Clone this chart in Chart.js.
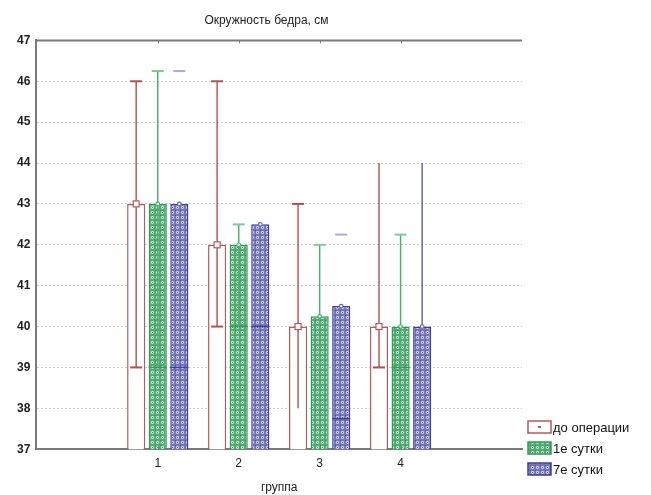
<!DOCTYPE html>
<html>
<head>
<meta charset="utf-8">
<script src="https://cdn.jsdelivr.net/npm/chart.js@4.4.1/dist/chart.umd.min.js"></script>
<style>
  html, body { margin: 0; padding: 0; background: #fff; }
  #wrap { width: 651px; height: 495px; }
</style>
</head>
<body>
<div id="wrap"><canvas id="chart" width="651" height="495"></canvas></div>
<script>
// groups on the x axis (blank slots at both ends)
const categories = ["", "1", "2", "3", "4", ""];
const seriesNames = ["до операции", "1е сутки", "7е сутки"];

// bar heights (median)
const preOp = [null, 43, 42, 40, 40, null];
const day1 = [null, 43, 42, 40.25, 40, null];
const day7 = [null, 43, 42.5, 40.5, 40, null];

// whisker lines
const preLo = [null, 39, 40, 38, 39, null];
const preHi = [null, 46, 46, 43, 44, null];
const preCapLo = [null, 39, 40, null, 39, null];
const preCapHi = [null, 46, 46, 43, null, null];

const day1Lo = [null, 39, 40, 38, 39, null];
const day1Hi = [null, 46.25, 42.5, 42, 42.25, null];
const day1CapHi = [null, 46.25, 42.5, 42, 42.25, null];
const day1Quart = [null, 39, 40, null, 39, null];

const day7Lo = [null, null, null, null, 40, null];
const day7Hi = [null, null, null, null, 44, null];
const day7CapHi = [null, 46.25, null, 42.25, null, null];
const day7Quart = [null, 39, 40, 37.75, null, null];

const yTicks = [37, 38, 39, 40, 41, 42, 43, 44, 45, 46, 47];

const FONT = "'Liberation Sans', Arial, sans-serif";

// small texture tiles like the original hatch fills
function makePattern(bg, fg, dot) {
    const c = document.createElement("canvas");
    c.width = 5;
    c.height = 5;
    const g = c.getContext("2d");
    g.fillStyle = bg;
    g.fillRect(0, 0, 5, 5);
    g.fillStyle = fg;
    g.beginPath();
    g.arc(2.5, 2.5, 1.4, 0, Math.PI * 2);
    g.fill();
    g.fillStyle = dot;
    g.fillRect(2, 2, 1, 1);
    g.fillRect(0, 0, 1, 1);
    return g.createPattern(c, "repeat");
}

const greenFill = makePattern("#52ad74", "#dcf1e3", "#34935a");
const blueFill = makePattern("#7676bf", "#e6e6f6", "#4d4da0");

const boxWhiskers = {
    id: "boxWhiskers",
    afterDatasetsDraw(chart) {
        const ctx = chart.ctx;
        const y = chart.scales.y;
        chart.data.datasets.forEach((ds, i) => {
            const meta = chart.getDatasetMeta(i);
            meta.data.forEach((bar, j) => {
                if (ds.data[j] == null) return;
                const x = bar.x;
                const w = bar.width;
                ctx.save();
                ctx.lineWidth = 1.5;
                // quartile line across the bar
                if (ds.quart && ds.quart[j] != null) {
                    const py = y.getPixelForValue(ds.quart[j]);
                    ctx.strokeStyle = ds.borderColor;
                    ctx.beginPath();
                    ctx.moveTo(x - w / 2, py);
                    ctx.lineTo(x + w / 2, py);
                    ctx.stroke();
                }
                // whisker
                if (ds.lo && ds.lo[j] != null) {
                    ctx.strokeStyle = ds.whiskerColor;
                    ctx.beginPath();
                    ctx.moveTo(x, y.getPixelForValue(ds.lo[j]));
                    ctx.lineTo(x, y.getPixelForValue(ds.hi[j]));
                    ctx.stroke();
                }
                // caps
                [ds.capLo, ds.capHi].forEach((caps) => {
                    if (!caps || caps[j] == null) return;
                    const py = y.getPixelForValue(caps[j]);
                    ctx.strokeStyle = ds.capColor;
                    ctx.lineWidth = 2;
                    ctx.beginPath();
                    ctx.moveTo(x - 6, py);
                    ctx.lineTo(x + 6, py);
                    ctx.stroke();
                });
                // median marker
                const my = y.getPixelForValue(ds.data[j]);
                ctx.lineWidth = 1.2;
                ctx.strokeStyle = ds.whiskerColor;
                ctx.fillStyle = "#fff";
                if (i === 0) {
                    ctx.fillRect(x - 3, my - 3, 6, 6);
                    ctx.strokeRect(x - 3, my - 3, 6, 6);
                } else {
                    ctx.beginPath();
                    ctx.arc(x, my, 1.8, 0, Math.PI * 2);
                    ctx.fill();
                    ctx.stroke();
                }
                ctx.restore();
            });
        });
    },
    afterDraw(chart) {
        const ctx = chart.ctx;
        const area = chart.chartArea;
        const xs = chart.scales.x;
        ctx.save();
        // top frame line with small ticks
        ctx.strokeStyle = "#7a7a7a";
        ctx.lineWidth = 2;
        ctx.beginPath();
        ctx.moveTo(area.left, area.top);
        ctx.lineTo(area.right, area.top);
        ctx.stroke();
        ctx.lineWidth = 1;
        for (let k = 1; k <= 4; k++) {
            const px = Math.round(xs.getPixelForValue(k)) + 0.5;
            ctx.beginPath();
            ctx.moveTo(px, area.top);
            ctx.lineTo(px, area.top + 3);
            ctx.stroke();
            ctx.beginPath();
            ctx.moveTo(px, area.bottom);
            ctx.lineTo(px, area.bottom - 3);
            ctx.stroke();
        }
        // legend
        const lx = area.right + 6;
        const ly = [427, 448, 469];
        ctx.font = "13px " + FONT;
        ctx.textBaseline = "middle";
        chart.data.datasets.forEach((ds, i) => {
            ctx.fillStyle = ds.backgroundColor;
            ctx.fillRect(lx, ly[i] - 6, 23, 12);
            ctx.strokeStyle = ds.borderColor;
            ctx.lineWidth = 1.5;
            ctx.strokeRect(lx, ly[i] - 6, 23, 12);
            if (i === 0) {
                ctx.fillStyle = ds.borderColor;
                ctx.fillRect(lx + 10, ly[i] - 1, 3, 2);
            }
            ctx.fillStyle = "#111";
            ctx.fillText(ds.label, lx + 25, ly[i] + 1);
        });
        ctx.restore();
    },
};

new Chart(document.getElementById("chart"), {
    type: "bar",
    data: {
        labels: categories,
        datasets: [
            {
                label: seriesNames[0],
                data: preOp,
                backgroundColor: "#ffffff",
                borderColor: "#b85a58",
                whiskerColor: "#b85a58",
                capColor: "#b05050",
                lo: preLo,
                hi: preHi,
                capLo: preCapLo,
                capHi: preCapHi,
            },
            {
                label: seriesNames[1],
                data: day1,
                backgroundColor: greenFill,
                borderColor: "#2f9a5a",
                whiskerColor: "#4fae70",
                capColor: "#7ccb9a",
                lo: day1Lo,
                hi: day1Hi,
                capHi: day1CapHi,
                quart: day1Quart,
            },
            {
                label: seriesNames[2],
                data: day7,
                backgroundColor: blueFill,
                borderColor: "#3e3e9c",
                whiskerColor: "#6666bb",
                capColor: "#a9a9dc",
                lo: day7Lo,
                hi: day7Hi,
                capHi: day7CapHi,
                quart: day7Quart,
            },
        ],
    },
    options: {
        responsive: false,
        animation: false,
        layout: { padding: { left: 11, right: 129, top: 0, bottom: 0 } },
        datasets: {
            bar: {
                borderWidth: 1.5,
                borderSkipped: false,
                categoryPercentage: 0.8,
                barPercentage: 0.84,
            },
        },
        plugins: {
            legend: { display: false },
            tooltip: { enabled: false },
            title: {
                display: true,
                text: "Окружность бедра, см",
                color: "#222",
                font: { family: FONT, size: 12, weight: "normal" },
                padding: { top: 13, bottom: 13 },
            },
        },
        scales: {
            x: {
                grid: { display: false, drawTicks: false },
                border: { color: "#7a7a7a", width: 2 },
                ticks: {
                    color: "#222",
                    font: { family: FONT, size: 12 },
                    padding: 7,
                    maxRotation: 0,
                },
                title: {
                    display: true,
                    text: "группа",
                    color: "#222",
                    font: { family: FONT, size: 12 },
                    padding: { top: 3, bottom: 0 },
                },
            },
            y: {
                min: yTicks[0],
                max: yTicks[yTicks.length - 1],
                afterBuildTicks: (scale) => {
                    scale.ticks = yTicks.map((v) => ({ value: v }));
                },
                grid: {
                    drawTicks: false,
                    color: (c) =>
                        c.tick && (c.tick.value === 47 || c.tick.value === 37)
                            ? "rgba(0,0,0,0)"
                            : "#cfcfcf",
                    lineWidth: 1,
                },
                border: { color: "#7a7a7a", width: 2, dash: [2, 2] },
                ticks: {
                    color: "#222",
                    font: { family: FONT, size: 12, weight: "bold" },
                    padding: 6,
                },
            },
        },
    },
    plugins: [boxWhiskers],
});
</script>
</body>
</html>
